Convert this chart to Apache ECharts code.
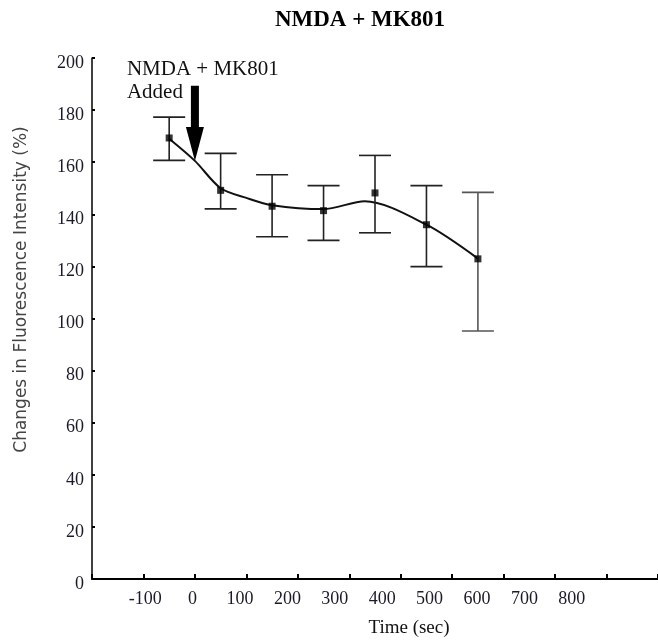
<!DOCTYPE html>
<html>
<head>
<meta charset="utf-8">
<script src="https://cdn.jsdelivr.net/npm/echarts@6/dist/echarts.min.js"></script>
<style>
html,body{margin:0;padding:0;background:#fff;}
#main{width:658px;height:643px;}
</style>
</head>
<body>
<div id="main"></div>
<script>
// ---- data ----
const times    = [-50, 50, 150, 250, 350, 450, 550];
const means    = [169.3, 149.2, 143.1, 141.4, 148.2, 136.0, 122.9];
const errLow   = [160.7, 142.1, 131.4, 130.0, 132.9, 119.9, 95.2];
const errHigh  = [177.3, 163.4, 155.2, 151.0, 162.6, 151.0, 148.4];
const curveTimes  = [-50, 0, 50, 100, 150, 250, 330, 450, 550];
const curveValues = [169, 160.5, 150, 146.3, 143.5, 142, 145, 136, 123];
const arrowTime = 0;
const arrowFrom = 189.3;
const arrowTo   = 160.5;
const xTickLabels = ['-100','0','100','200','300','400','500','600','700','800'];
const yTickLabels = ['0','20','40','60','80','100','120','140','160','180','200'];
const titleText = 'NMDA + MK801';
const annotationText = 'NMDA + MK801\nAdded';
const xName = 'Time (sec)';
const yName = 'Changes in Fluorescence Intensity (%)';

const serif = '"Liberation Serif","DejaVu Serif",serif';
const chart = echarts.init(document.getElementById('main'), null, {renderer:'canvas'});

const meanData = times.map((t,i)=>[t, means[i]]);
const errData = times.map((t,i)=>[t, errLow[i], errHigh[i]]);
const curveData = curveTimes.map((t,i)=>[t, curveValues[i]]);

const option = {
  backgroundColor:'#fff',
  animation:false,
  title:{
    text:titleText, left:355, top:4, textAlign:'center',
    textStyle:{fontFamily:serif, fontWeight:'bold', fontSize:23, color:'#000'}
  },
  grid:[
    {left:92, top:58, width:572, height:522.5},
    {left:97.8, top:58, width:521.4, height:522.5}
  ],
  xAxis:[
    {type:'value', gridIndex:0, min:-200, max:900, interval:100,
     axisLine:{show:true, onZero:false, lineStyle:{color:'#000', width:2}},
     axisTick:{show:true, inside:true, length:5, lineStyle:{color:'#000', width:2}},
     axisLabel:{show:false}, splitLine:{show:false},
     name:xName, nameLocation:'middle', nameGap:40,
     nameTextStyle:{fontFamily:serif, fontSize:19, color:'#111', padding:[0,0,0,68]}
    },
    {type:'value', gridIndex:1, min:-200, max:900, interval:100,
     axisLine:{show:false}, axisTick:{show:false}, splitLine:{show:false},
     axisLabel:{show:true, margin:10, fontFamily:serif, fontSize:18, color:'#1a1a2a',
       formatter:(v)=>{const s=String(v); return xTickLabels.indexOf(s)>=0?s:'';}}
    }
  ],
  yAxis:[
    {type:'value', gridIndex:0, min:0, max:200, interval:20,
     axisLine:{show:true, onZero:false, lineStyle:{color:'#000', width:1.5}},
     axisTick:{show:true, inside:true, length:3, lineStyle:{color:'#000', width:2}},
     splitLine:{show:false},
     axisLabel:{margin:8, fontFamily:serif, fontSize:18, color:'#1a1a2a',
       verticalAlign:'top', lineHeight:10,
       formatter:(v)=>{const s=String(v); return yTickLabels.indexOf(s)>=0?s:'';}},
     name:yName, nameLocation:'middle', nameGap:62,
     nameTextStyle:{fontFamily:'"DejaVu Sans",sans-serif', fontSize:17, color:'#444', padding:[0,0,0,58]}
    },
    {type:'value', gridIndex:1, min:0, max:200, show:false}
  ],
  series:[
    {type:'line', xAxisIndex:0, yAxisIndex:0, data:curveData, smooth:0.3,
     showSymbol:false, symbol:'none', lineStyle:{color:'#111', width:2}, z:3},
    {type:'custom', xAxisIndex:0, yAxisIndex:0, data:errData, z:4,
     renderItem:(params, api)=>{
       const x = api.value(0);
       const lo = api.coord([x, api.value(1)]);
       const hi = api.coord([x, api.value(2)]);
       const hw = 16;
       const col = params.dataIndex === errData.length-1 ? '#555' : '#222';
       const st = {stroke:col, lineWidth:1.6};
       return {type:'group', children:[
         {type:'line', shape:{x1:lo[0], y1:lo[1], x2:hi[0], y2:hi[1]}, style:st},
         {type:'line', shape:{x1:lo[0]-hw, y1:lo[1], x2:lo[0]+hw, y2:lo[1]}, style:st},
         {type:'line', shape:{x1:hi[0]-hw, y1:hi[1], x2:hi[0]+hw, y2:hi[1]}, style:st}
       ]};
     }
    },
    {type:'scatter', xAxisIndex:0, yAxisIndex:0, data:meanData, symbol:'rect', symbolSize:7,
     itemStyle:{color:'#000'}, z:5},
    {type:'custom', xAxisIndex:0, yAxisIndex:0, data:[[arrowTime, arrowFrom, arrowTo]], z:6, clip:false,
     renderItem:(params, api)=>{
       const t = api.value(0);
       const top = api.coord([t, api.value(1)]);
       const tip = api.coord([t, api.value(2)]);
       const headLen = 34, sw = 4, hw = 9;
       const baseY = tip[1] - headLen;
       const x = tip[0];
       return {type:'group', children:[
         {type:'polygon', shape:{points:[
           [x-sw, top[1]], [x+sw, top[1]], [x+sw, baseY], [x+hw, baseY],
           [x, tip[1]], [x-hw, baseY], [x-sw, baseY]
         ]}, style:{fill:'#000'}},
         {type:'text', x: top[0]-68, y: top[1]-28,
          style:{text:annotationText, font:'21px "Liberation Serif", serif', fill:'#111',
                 lineHeight:23, textAlign:'left', textVerticalAlign:'top'}}
       ]};
     }
    }
  ]
};
chart.setOption(option);
</script>
</body>
</html>
